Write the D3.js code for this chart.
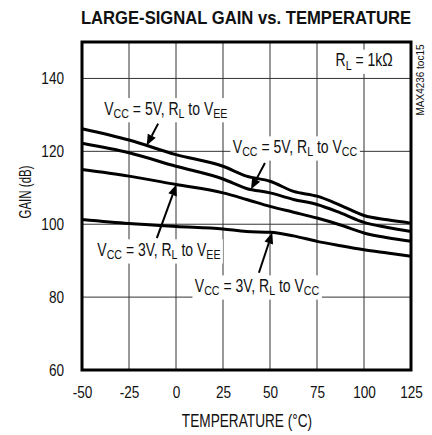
<!DOCTYPE html>
<html>
<head>
<meta charset="utf-8">
<script src="https://cdn.jsdelivr.net/npm/d3@7"></script>
<style>
  html, body { margin: 0; padding: 0; background: #fff; }
  svg { display: block; }
  text { font-family: "Liberation Sans", Arial, Helvetica, sans-serif; fill: #111; }
</style>
</head>
<body>
<svg id="chart" width="432" height="435"></svg>
<script>
// Temperature grid (°C) used by every curve
const temps = [-50, -25, 0, 25, 37.5, 50, 62.5, 75, 87.5, 100, 112.5, 125];

// Gain (dB) per supply / load configuration
const gain5vVee = [126.2, 123.1, 119.1, 115.9, 113.2, 111.8, 109.0, 107.7, 105.2, 102.4, 101.2, 100.3];
const gain5vVcc = [122.2, 119.6, 115.9, 112.4, 109.8, 108.6, 106.8, 105.4, 103.1, 100.5, 99.1, 98.0];
const gain3vVee = [115.0, 113.2, 110.9, 108.6, 106.8, 104.9, 103.3, 101.7, 99.8, 97.6, 96.3, 95.3];
const gain3vVcc = [101.3, 100.2, 99.4, 98.7, 98.0, 97.8, 96.8, 95.3, 94.1, 93.0, 92.1, 91.2];

const xTicks = [-50, -25, 0, 25, 50, 75, 100, 125];
const yTicks = [60, 80, 100, 120, 140];

const series = [
  { vcc: '5V', load: 'EE', values: gain5vVee },
  { vcc: '5V', load: 'CC', values: gain5vVcc },
  { vcc: '3V', load: 'EE', values: gain3vVee },
  { vcc: '3V', load: 'CC', values: gain3vVcc },
];

// Callouts (data units): label centre/baseline, arrow tail, arrow tip temperature on the curve
const callouts = [
  { series: 0, label: [-5.4, 130.1], tail: [-9.5, 127.6], tipT: -15.6 },
  { series: 1, label: [63.3, 119.6], tail: [47.3, 116.8], tipT: 39.9 },
  { series: 2, label: [-9.1, 91.35], tail: [-10.2, 96.2], tipT: 0.2 },
  { series: 3, label: [43.1, 81.45], tail: [44.1, 86.7], tipT: 51.2 },
];

const NARROW = 0.8; // condensed-face approximation

const svg = d3.select('#chart');
const margin = { top: 42, right: 21, bottom: 65, left: 82 };
const width = 432 - margin.left - margin.right;
const height = 435 - margin.top - margin.bottom;

const x = d3.scaleLinear().domain([-50, 125]).range([0, width]);
const y = d3.scaleLinear().domain([60, 150]).range([height, 0]);

// Title
svg.append('text')
  .attr('transform', 'translate(246,23.5) scale(0.9,1)')
  .attr('text-anchor', 'middle')
  .attr('font-size', '18.5px')
  .attr('font-weight', 'bold')
  .text('LARGE-SIGNAL GAIN vs. TEMPERATURE');

const g = svg.append('g').attr('transform', `translate(${margin.left},${margin.top})`);

// Grid
g.append('g')
  .selectAll('line')
  .data(xTicks.slice(1, -1))
  .join('line')
  .attr('x1', (d) => x(d)).attr('x2', (d) => x(d))
  .attr('y1', 0).attr('y2', height)
  .attr('stroke', '#333').attr('stroke-width', 1);
g.append('g')
  .selectAll('line')
  .data(yTicks.slice(1))
  .join('line')
  .attr('x1', 0).attr('x2', width)
  .attr('y1', (d) => y(d)).attr('y2', (d) => y(d))
  .attr('stroke', '#333').attr('stroke-width', 1);

// Axes: labels only, the frame is drawn separately
g.append('g')
  .attr('transform', `translate(0,${height})`)
  .call(d3.axisBottom(x).tickValues(xTicks).tickSize(0).tickPadding(16).tickFormat((d) => String(d)))
  .call((a) => {
    a.select('.domain').remove();
    a.selectAll('.tick text').attr('font-size', '17px').attr('fill', '#111')
      .attr('transform', `scale(${NARROW},1)`);
  });
g.append('g')
  .call(d3.axisLeft(y).tickValues(yTicks).tickSize(0).tickFormat((d) => String(d)))
  .call((a) => {
    a.select('.domain').remove();
    a.selectAll('.tick text').attr('font-size', '17px').attr('fill', '#111')
      .attr('x', -18 / NARROW)
      .attr('transform', `scale(${NARROW},1)`);
  });

svg.append('text')
  .attr('transform', `translate(247,427) scale(0.78,1)`)
  .attr('text-anchor', 'middle')
  .attr('font-size', '17.5px')
  .text('TEMPERATURE (°C)');

svg.append('text')
  .attr('transform', 'translate(31,192) rotate(-90) scale(0.72,1)')
  .attr('text-anchor', 'middle')
  .attr('font-size', '16px')
  .text('GAIN (dB)');

svg.append('text')
  .attr('transform', 'translate(424,80) rotate(-90) scale(0.95,1)')
  .attr('text-anchor', 'middle')
  .attr('font-size', '10.5px')
  .attr('fill', '#333')
  .text('MAX4236 toc15');

// Curves
const line = d3.line()
  .x((d) => x(d[0]))
  .y((d) => y(d[1]))
  .curve(d3.curveMonotoneX);

series.forEach((s) => {
  g.append('path')
    .datum(temps.map((t, i) => [t, s.values[i]]))
    .attr('fill', 'none')
    .attr('stroke', '#000')
    .attr('stroke-width', 3)
    .attr('stroke-linejoin', 'round')
    .attr('d', line);
});

// Label with subscripts on a white box; parts are [text, isSubscript].
// Only relative dy shifts, so the whole label stays one anchored text chunk.
function addLabel(cx, cy, parts, size) {
  const grp = g.append('g').attr('transform', `translate(${cx},${cy}) scale(${NARROW},1)`);
  const bg = grp.append('rect').attr('fill', '#fff');
  const t = grp.append('text').attr('font-size', size + 'px').attr('text-anchor', 'middle');
  const drop = size * 0.2;
  let lowered = false;
  parts.forEach(([str, sub]) => {
    const span = t.append('tspan').text(str);
    if (sub && !lowered) { span.attr('dy', drop); lowered = true; }
    else if (!sub && lowered) { span.attr('dy', -drop); lowered = false; }
    if (sub) span.attr('font-size', (size * 0.76) + 'px');
  });
  const bb = t.node().getBBox();
  bg.attr('x', bb.x - 3).attr('y', bb.y - 1).attr('width', bb.width + 6).attr('height', bb.height + 2);
}

// Tip lies on the drawn curve: sample the series at tipT (between grid points)
function valueAt(values, t) {
  const i = Math.max(1, d3.bisectLeft(temps, t));
  const t0 = temps[i - 1], t1 = temps[i];
  return values[i - 1] + (values[i] - values[i - 1]) * (t - t0) / (t1 - t0);
}

callouts.forEach((c) => {
  const s = series[c.series];
  addLabel(x(c.label[0]), y(c.label[1]), [
    ['V'], ['CC', true], [` = ${s.vcc}, R`], ['L', true], [' to V'], [s.load, true],
  ], 17.5);

  const x0 = x(c.tail[0]), y0 = y(c.tail[1]);
  const x1 = x(c.tipT), y1 = y(valueAt(s.values, c.tipT));
  const ang = Math.atan2(y1 - y0, x1 - x0);
  const headLen = 11, headW = 4.5;
  const bx = x1 - headLen * Math.cos(ang), by = y1 - headLen * Math.sin(ang);
  g.append('line')
    .attr('x1', x0).attr('y1', y0).attr('x2', bx).attr('y2', by)
    .attr('stroke', '#000').attr('stroke-width', 2);
  g.append('path')
    .attr('d', `M${x1},${y1}L${bx + headW * Math.sin(ang)},${by - headW * Math.cos(ang)}L${bx - headW * Math.sin(ang)},${by + headW * Math.cos(ang)}Z`)
    .attr('fill', '#000');
});

// R_L = 1kΩ
addLabel(x(100.1), y(143.4), [['R'], ['L', true], [' = 1kΩ']], 17.5);

// Frame
g.append('rect')
  .attr('width', width).attr('height', height)
  .attr('fill', 'none').attr('stroke', '#000').attr('stroke-width', 3);
</script>
</body>
</html>
